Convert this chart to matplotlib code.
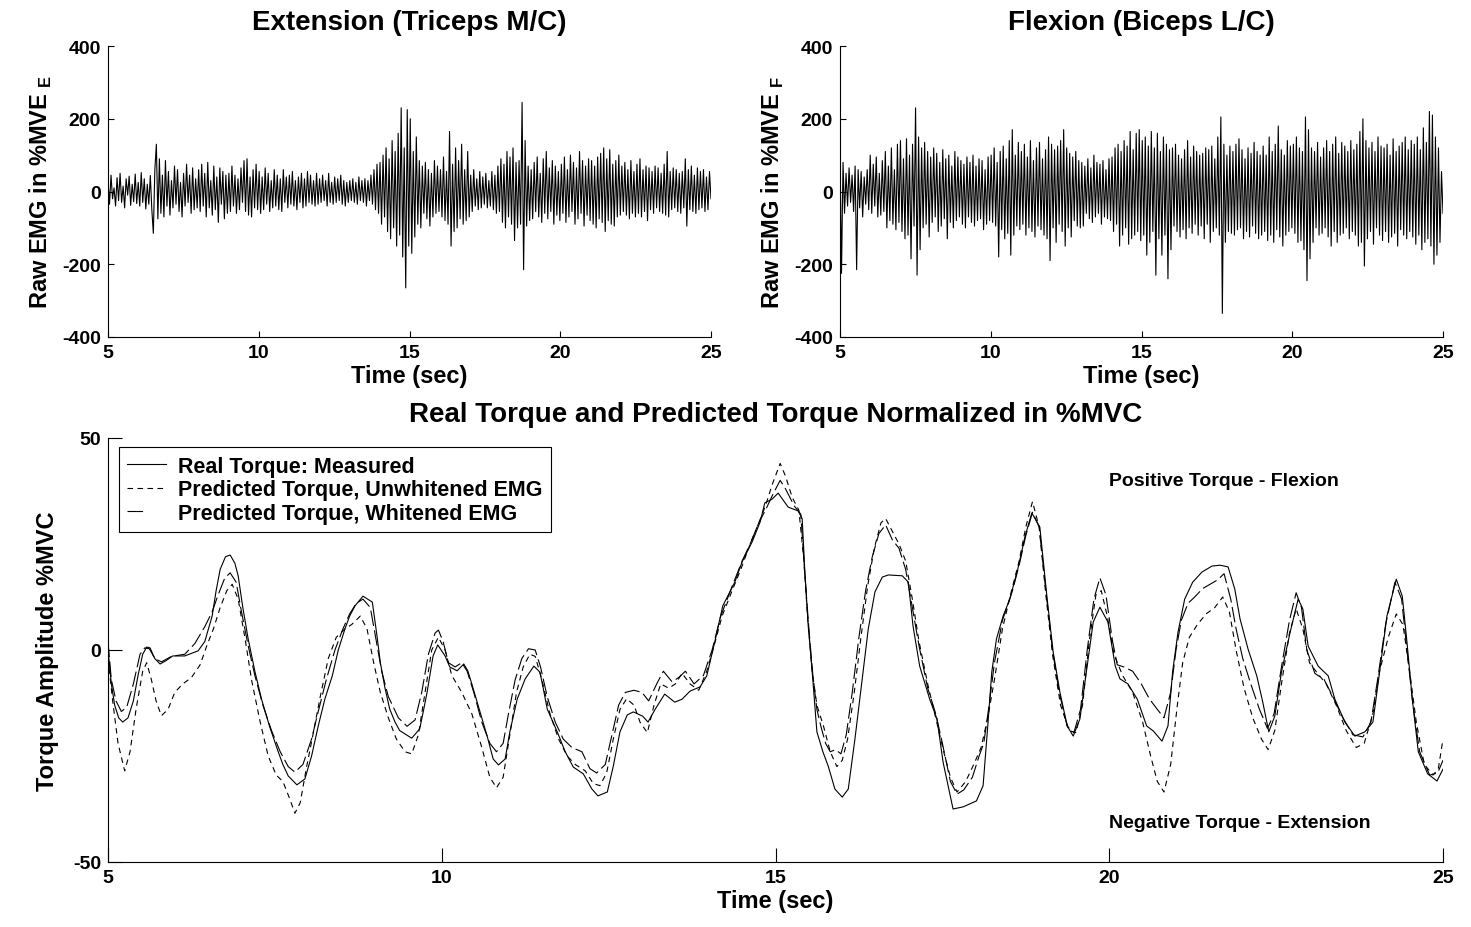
import numpy as np
import matplotlib
matplotlib.use('Agg')
import matplotlib.pyplot as plt
from matplotlib.lines import Line2D

plt.rcParams['font.family'] = ['Liberation Sans', 'DejaVu Sans']
plt.rcParams['font.weight'] = 'bold'
plt.rcParams['mathtext.fontset'] = 'custom'
plt.rcParams['mathtext.bf'] = 'Liberation Sans:bold'
plt.rcParams['mathtext.rm'] = 'Liberation Sans:bold'
plt.rcParams['axes.unicode_minus'] = False

# ---------------- data ----------------
emg_ext = [
    30, -35, 45, -20, 10, -40, 38, -25, 50, -30, 15, -45, 35, -10, 42, -38, 20, -28, 48, -33,
    25, -40, 52, -30, 35, -48, 20, -35, 44, -50, -115, 60, 130, -75, 90, -60, 45, -70, 85, -40,
    55, -65, 30, -45, 70, -35, 60, -55, 25, -70, 50, -40, 75, -30, 45, -60, 65, -50, 35, -45,
    60, -55, 75, -40, 50, -70, 80, -45, 30, -65, 70, -50, 40, -85, 65, -35, 55, -75, 45, -60,
    50, -55, 70, -40, 45, -60, 35, -50, 65, -30, 85, -55, 90, -65, 40, -70, 60, -45, 75, -50,
    55, -60, 40, -50, 65, -35, 50, -55, 30, -45, 60, -40, 45, -50, 35, -55, 60, -30, 40, -45,
    45, -35, 55, -40, 30, -50, 40, -30, 50, -45, 35, -40, 55, -30, 45, -35, 30, -40, 50, -35,
    35, -30, 45, -25, 30, -40, 50, -30, 25, -35, 40, -30, 35, -25, 45, -35, 30, -40, 25, -30,
    30, -25, 35, -30, 25, -35, 40, -25, 30, -30, 35, -40, 30, -25, 45, -35, 60, -50, 75, -60,
    80, -90, 100, -70, 120, -110, 90, -130, 140, -100, 110, -150, 160, -120, 230, -180, 120, -265, 225, -150,
    200, -170, 110, -125, 150, -90, 85, -100, 70, -60, 80, -75, 60, -95, 50, -70, 85, -60, 70, -55,
    60, -70, 95, -80, 55, -90, 165, -150, 75, -110, 120, -100, 85, -75, 130, -90, 60, -80, 110, -70,
    45, -55, 60, -40, 35, -50, 55, -45, 40, -35, 50, -45, 30, -40, 55, -50, 45, -60, 70, -55,
    90, -85, 75, -100, 110, -70, 95, -90, 120, -135, 80, -100, 85, -90, 245, -215, 140, -95, 70, -80,
    60, -75, 80, -55, 95, -70, 50, -85, 90, -60, 110, -75, 65, -55, 85, -90, 70, -65, 55, -80,
    75, -60, 95, -85, 60, -70, 100, -55, 80, -90, 65, -75, 110, -60, 85, -95, 70, -65, 90, -80,
    85, -90, 70, -100, 95, -75, 105, -85, 120, -110, 90, -80, 115, -90, 75, -95, 85, -70, 100, -65,
    70, -55, 80, -65, 60, -75, 85, -60, 55, -70, 75, -60, 90, -70, 60, -55, 70, -80, 65, -50,
    55, -60, 70, -45, 65, -55, 50, -60, 75, -65, 110, -70, 55, -50, 65, -45, 60, -55, 50, -60,
    55, -45, 90, -95, 60, -50, 70, -55, 45, -60, 65, -50, 55, -45, 60, -55, 40, -50, 55, -20,
]

emg_flex = [
    110, -225, 80, -60, 50, -40, 65, -30, 45, -55, 70, -215, 60, -45, 55, -70, 40, -35, 60, -50,
    100, -60, 75, -40, 95, -70, 50, -65, 85, -55, 110, -100, 70, -80, 120, -90, 60, -105, 130, -85,
    140, -110, 90, -130, 145, -120, 100, -185, 130, -95, 230, -230, 150, -160, 120, -100, 135, -90, 110, -125,
    95, -85, 120, -70, 105, -110, 80, -95, 115, -75, 90, -130, 100, -85, 70, -100, 110, -80, 95, -70,
    85, -90, 75, -100, 95, -70, 80, -85, 100, -95, 70, -80, 90, -75, 85, -105, 60, -90, 95, -80,
    100, -85, 120, -95, 80, -180, 110, -105, 125, -130, 90, -115, 140, -175, 170, -120, 100, -95, 135, -105,
    110, -90, 130, -120, 95, -100, 140, -110, 85, -125, 120, -95, 135, -105, 90, -120, 115, -130, 150, -190,
    130, -100, 115, -140, 125, -90, 140, -110, 170, -150, 120, -100, 105, -125, 95, -80, 110, -95, 85, -100,
    80, -95, 70, -60, 90, -75, 65, -85, 100, -70, 80, -60, 75, -90, 85, -70, 60, -75, 90, -80,
    95, -110, 120, -90, 130, -150, 110, -120, 140, -100, 125, -145, 165, -130, 115, -120, 160, -110, 170, -135,
    140, -120, 150, -175, 125, -140, 165, -110, 120, -230, 160, -130, 110, -175, 150, -120, 130, -240, 115, -160,
    120, -95, 130, -110, 100, -125, 90, -105, 115, -130, 140, -100, 95, -115, 125, -90, 110, -120, 100, -95,
    105, -130, 120, -90, 115, -140, 125, -110, 90, -100, 150, -120, 205, -335, 130, -140, 100, -110, 125, -115,
    110, -120, 130, -105, 145, -100, 115, -130, 90, -110, 120, -125, 105, -95, 135, -115, 110, -130, 100, -120,
    125, -110, 100, -135, 150, -120, 110, -140, 130, -105, 180, -125, 115, -150, 100, -120, 140, -110, 125, -100,
    130, -115, 150, -140, 120, -135, 110, -160, 205, -245, 170, -185, 120, -140, 110, -100, 135, -120, 95, -115,
    120, -100, 140, -125, 110, -150, 130, -110, 150, -140, 105, -120, 135, -115, 125, -100, 110, -130, 140, -110,
    115, -120, 130, -150, 165, -140, 200, -205, 140, -130, 120, -110, 135, -145, 110, -100, 150, -120, 125, -135,
    120, -110, 130, -140, 100, -125, 145, -115, 110, -150, 125, -105, 135, -120, 150, -130, 115, -110, 140, -125,
    130, -145, 150, -120, 115, -160, 175, -140, 135, -130, 220, -150, 210, -200, 150, -175, 120, -140, 55, -60,
]

real_t = [5.00, 5.05, 5.10, 5.16, 5.22, 5.30, 5.38, 5.45, 5.52, 5.58, 5.63, 5.70, 5.78, 5.87, 5.97,
          6.15, 6.35, 6.45, 6.56, 6.62, 6.68, 6.76, 6.83, 6.90, 6.95, 7.02, 7.10, 7.20, 7.30, 7.42,
          7.55, 7.62, 7.70, 7.83, 7.95, 8.05, 8.15, 8.25, 8.36, 8.45, 8.55, 8.62, 8.70, 8.82, 8.96,
          9.03, 9.08, 9.15, 9.22, 9.30, 9.37, 9.55, 9.67, 9.73, 9.78, 9.87, 9.94, 10.05, 10.12, 10.23,
          10.33, 10.39, 10.45, 10.53, 10.68, 10.77, 10.85, 10.95, 11.02, 11.13, 11.25, 11.38, 11.47, 11.52, 11.58,
          11.73, 11.85, 11.97, 12.12, 12.25, 12.34, 12.48, 12.57, 12.67, 12.78, 12.87, 13.01, 13.09, 13.20, 13.34,
          13.49, 13.60, 13.72, 13.87, 13.97, 14.09, 14.21, 14.39, 14.50, 14.65, 14.77, 14.84, 14.95, 15.04, 15.19,
          15.34, 15.40, 15.44, 15.49, 15.55, 15.62, 15.71, 15.79, 15.89, 16.00, 16.09, 16.19, 16.30, 16.39, 16.49,
          16.60, 16.69, 16.90, 16.99, 17.06, 17.16, 17.31, 17.42, 17.51, 17.66, 17.81, 18.01, 18.11, 18.18, 18.24,
          18.31, 18.41, 18.51, 18.63, 18.74, 18.84, 18.96, 19.07, 19.16, 19.26, 19.37, 19.46, 19.56, 19.67, 19.76,
          19.86, 19.98, 20.09, 20.16, 20.28, 20.42, 20.56, 20.66, 20.79, 20.88, 20.95, 21.03, 21.13, 21.25, 21.39,
          21.54, 21.66, 21.78, 21.88, 21.96, 22.08, 22.21, 22.30, 22.39, 22.48, 22.58, 22.71, 22.83, 22.90, 22.98,
          23.13, 23.28, 23.38, 23.53, 23.68, 23.83, 23.95, 24.05, 24.16, 24.30, 24.39, 24.46, 24.54, 24.63, 24.77,
          24.91, 25.00]
real_v = [0, -8, -13, -16, -17, -16, -12, -6, -1, 0.7, 0.5, -2, -3.3, -2.5, -1.4,
          -1.4, -0.2, 2, 8, 14, 19, 22, 22.4, 20.5, 17.5, 10, 2.6, -5, -11.6, -18,
          -24, -27, -29.7, -31.8, -30.4, -25, -17.9, -11.5, -6.1, 0, 5, 8, 10.4, 12.7, 11.3,
          3.3, -3, -9, -13.9, -17, -19, -20.8, -18.6, -14, -10, -1.4, 1.2, -1.4, -4, -4.9,
          -3.3, -4.9, -8, -12.3, -20.3, -25.7, -27.1, -25.7, -19.3, -11.6, -6.8, -3.8, -5.2, -9, -13.9,
          -19.3, -24, -27.6, -29.2, -32.8, -34.4, -33.5, -27.4, -19.3, -15.3, -14.6, -15.6, -17, -13.9, -10.4,
          -12.3, -11.6, -9.7, -8.7, -6.1, 1.9, 10.4, 16, 20.8, 25.5, 30.2, 34.7, 35.6, 37, 33.7,
          32.8, 30.9, 18.4, 5.7, -5.2, -19.3, -24, -27.4, -32.8, -34.7, -32.8, -21, -6.8, 5, 13.7,
          17.2, 17.7, 17.5, 16, 5.7, -3.8, -11.6, -16.3, -26.4, -37.5, -37, -35.6, -32, -17.9, -5.2,
          2.6, 8, 12, 19.1, 26.9, 32.3, 29, 12, -0.5, -9.9, -17.9, -20.3, -16.3, -3.8, 6.6,
          10.1, 6.6, -3.8, -6.8, -8, -11.6, -17.9, -19.1, -21.5, -17.9, -5, 4.2, 12, 16, 18.4,
          19.8, 20, 19.6, 14.4, 7.3, 0.2, -6.1, -12.3, -19.3, -15.6, -5.2, 4.2, 12, 9.7, 0.9,
          -3.8, -6.1, -11.6, -17, -20.3, -19.3, -17, -5.2, 8, 16.7, 12.7, 1.9, -11.6, -24, -29.2,
          -30.9, -28.1]

unwh_t = [5.00, 5.07, 5.15, 5.25, 5.33, 5.42, 5.52, 5.58, 5.65, 5.72, 5.80, 5.90, 6.00, 6.12, 6.25,
          6.38, 6.48, 6.58, 6.68, 6.78, 6.86, 6.95, 7.05, 7.15, 7.28, 7.40, 7.52, 7.62, 7.72, 7.80,
          7.88, 7.97, 8.07, 8.18, 8.30, 8.42, 8.55, 8.65, 8.78, 8.88, 8.98, 9.08, 9.20, 9.32, 9.45,
          9.55, 9.65, 9.75, 9.85, 9.95, 10.05, 10.15, 10.30, 10.45, 10.60, 10.72, 10.82, 10.92, 11.02, 11.12,
          11.22, 11.32, 11.40, 11.50, 11.62, 11.75, 11.88, 12.00, 12.15, 12.27, 12.37, 12.47, 12.57, 12.67, 12.77,
          12.88, 12.97, 13.08, 13.18, 13.28, 13.40, 13.50, 13.60, 13.72, 13.85, 13.97, 14.08, 14.20, 14.35, 14.48,
          14.62, 14.75, 14.85, 14.95, 15.07, 15.15, 15.25, 15.35, 15.42, 15.48, 15.55, 15.62, 15.72, 15.82, 15.92,
          16.00, 16.08, 16.18, 16.28, 16.38, 16.48, 16.58, 16.65, 16.75, 16.85, 16.95, 17.05, 17.15, 17.28, 17.40,
          17.52, 17.62, 17.72, 17.85, 17.97, 18.08, 18.18, 18.28, 18.40, 18.52, 18.65, 18.75, 18.85, 18.95, 19.05,
          19.15, 19.27, 19.40, 19.50, 19.60, 19.70, 19.80, 19.88, 19.97, 20.07, 20.20, 20.35, 20.50, 20.62, 20.72,
          20.82, 20.92, 21.02, 21.10, 21.20, 21.32, 21.45, 21.58, 21.70, 21.80, 21.90, 22.02, 22.15, 22.28, 22.38,
          22.48, 22.58, 22.70, 22.80, 22.90, 23.00, 23.12, 23.25, 23.40, 23.55, 23.70, 23.82, 23.95, 24.05, 24.18,
          24.30, 24.40, 24.50, 24.60, 24.72, 24.85, 24.93, 25.00]
unwh_v = [-2, -12, -22, -28.5, -24, -14, -5, -3, -7, -12, -15.5, -14, -10, -8, -6.5,
          -3.5, 1, 5, 10, 14, 15.5, 12, 3, -7, -17, -25, -29.5, -31, -35, -38.5,
          -36, -28, -20, -11, -2, 3, 5, 6, 8, 5, -3, -10, -16, -21, -24,
          -24.5, -20, -10, 0, 3, 0, -6, -10, -15, -23, -30, -32.5, -30, -20, -10,
          -4, -1, -1.5, -7, -15, -21, -25, -27, -28.5, -31.5, -32, -29, -21, -14, -11.5,
          -13, -17, -19.5, -13, -8, -9, -8, -5.5, -8, -9.5, -5, 1, 8, 14, 19,
          25, 30, 34, 39, 44, 41, 36, 33, 22, 8, -5, -13, -18, -24, -27.5,
          -26, -21, -10, 3, 15, 24, 30, 31, 28, 25, 21, 12, 2, -8, -16,
          -24, -30, -33.5, -31, -27, -23, -16, -7, 5, 13, 21, 29, 35, 29, 13,
          -1, -13, -19, -19.5, -13, 2, 13, 14, 8, -1, -6, -10, -17, -25, -31,
          -33.5, -27, -13, -3, 3, 6, 8.5, 10, 12.5, 9, 0, -9, -16, -21, -23.5,
          -19, -8, 4, 9.7, 5, -3, -5.5, -8, -13, -19, -23, -22, -15, -5, 3,
          8.5, 6, -5, -17, -27, -29.5, -28, -21]

wh_t = [5.00, 5.05, 5.12, 5.20, 5.28, 5.38, 5.48, 5.55, 5.62, 5.70, 5.80, 5.95, 6.15, 6.30, 6.45,
        6.56, 6.65, 6.75, 6.83, 6.92, 7.00, 7.10, 7.20, 7.32, 7.45, 7.58, 7.70, 7.80, 7.92, 8.05,
        8.15, 8.27, 8.40, 8.52, 8.62, 8.72, 8.82, 8.93, 9.02, 9.10, 9.20, 9.35, 9.48, 9.60, 9.70,
        9.80, 9.90, 9.95, 10.02, 10.10, 10.20, 10.30, 10.38, 10.48, 10.60, 10.72, 10.82, 10.92, 11.00, 11.10,
        11.20, 11.30, 11.40, 11.48, 11.58, 11.70, 11.82, 11.95, 12.10, 12.22, 12.32, 12.45, 12.55, 12.65, 12.75,
        12.88, 13.00, 13.10, 13.22, 13.32, 13.45, 13.55, 13.65, 13.78, 13.92, 14.05, 14.18, 14.35, 14.50, 14.62,
        14.75, 14.85, 14.97, 15.07, 15.15, 15.28, 15.38, 15.43, 15.50, 15.56, 15.62, 15.68, 15.75, 15.82, 15.90,
        15.98, 16.06, 16.15, 16.25, 16.35, 16.45, 16.55, 16.65, 16.75, 16.85, 16.95, 17.05, 17.15, 17.28, 17.40,
        17.50, 17.62, 17.72, 17.82, 17.95, 18.05, 18.12, 18.20, 18.28, 18.40, 18.55, 18.65, 18.75, 18.85, 18.95,
        19.05, 19.15, 19.25, 19.37, 19.47, 19.57, 19.67, 19.77, 19.86, 19.95, 20.05, 20.12, 20.22, 20.35, 20.48,
        20.60, 20.72, 20.82, 20.92, 21.00, 21.08, 21.18, 21.28, 21.40, 21.52, 21.62, 21.72, 21.82, 21.90, 22.00,
        22.12, 22.25, 22.37, 22.47, 22.58, 22.70, 22.80, 22.88, 22.96, 23.08, 23.22, 23.35, 23.50, 23.65, 23.80,
        23.92, 24.02, 24.14, 24.28, 24.38, 24.46, 24.55, 24.65, 24.80, 24.92, 25.00]
wh_v = [2, -7, -12, -14.5, -13.5, -8, -1, 0.5, 0.3, -2, -2.8, -1.5, -1, 1.5, 5.5,
        9, 13, 17, 18.2, 16, 9, 1, -6, -13, -19, -24, -27.5, -28.8, -27, -21,
        -14.5, -7, 0, 5, 8.5, 11, 12, 10, 2, -5, -11, -16, -18, -16.5, -10,
        -1, 4, 4.7, 2, -3, -4, -3, -5, -10, -17, -22, -24, -22, -15, -7,
        -2, 0.3, 0, -4, -11, -17, -21, -23, -24, -28, -29, -27, -20, -13, -10,
        -9.5, -10, -12, -8, -5, -7.5, -6.5, -5, -8, -6, 0, 8, 15, 21, 25,
        30, 33, 37, 40, 38, 34, 32, 20, 5, -6, -14, -18, -22, -24, -23.5,
        -24.5, -20, -10, 3, 14, 22, 27.5, 29.5, 26, 24, 19, 10, 1, -9, -15,
        -22, -31, -34, -33, -30, -25, -22, -13, -3, 7, 14, 20, 27, 32.5, 29,
        14, 0, -10, -18, -19.5, -14, 0, 12, 17, 13, 2, -3.5, -4, -5, -8,
        -11.5, -14, -16, -10, 0, 7, 11, 12.5, 14.5, 15.6, 16.5, 18, 12, 5, -2,
        -8, -14, -18.5, -15, -4, 7, 13.5, 10, 0, -5.5, -7, -11, -16, -20, -20.5,
        -17, -7, 6, 16, 12, 0, -13, -24, -29.5, -29, -26]

emg_xticks = [5, 10, 15, 20, 25]
emg_yticks = [-400, -200, 0, 200, 400]
tq_yticks = [-50, 0, 50]

# ---------------- figure ----------------
W, H = 1471, 928
fig = plt.figure(figsize=(W / 100, H / 100), dpi=100)


def px_axes(x0, y0, x1, y1):
    return fig.add_axes([x0 / W, 1 - y1 / H, (x1 - x0) / W, (y1 - y0) / H])


def style(ax, ticklen):
    for s in ('top', 'right'):
        ax.spines[s].set_visible(False)
    for s in ('left', 'bottom'):
        ax.spines[s].set_linewidth(0.8)
    ax.tick_params(direction='in', length=ticklen, width=0.8, labelsize=14, pad=5)
    for lab in ax.get_xticklabels() + ax.get_yticklabels():
        lab.set_fontweight('bold')


ax1 = px_axes(108, 47, 711, 338)
ax2 = px_axes(840, 47, 1443, 338)
ax3 = px_axes(108, 439, 1443, 863)

emg_time = np.linspace(5, 25, len(emg_ext))

for ax, sig, title, sub in ((ax1, emg_ext, 'Extension (Triceps M/C)', 'E'),
                            (ax2, emg_flex, 'Flexion (Biceps L/C)', 'F')):
    ax.plot(emg_time, sig, color='black', lw=0.8)
    ax.set_xlim(5, 25)
    ax.set_ylim(-400, 400)
    ax.set_xticks(emg_xticks)
    ax.set_yticks(emg_yticks)
    style(ax, 4)
    ax.set_title(title, fontsize=20, fontweight='bold', pad=12)
    ax.set_xlabel('Time (sec)', fontsize=17, fontweight='bold', labelpad=2)
    ax.set_ylabel('Raw EMG in %MVE$_{\\ \\mathbf{' + sub + '}}$', fontsize=17,
                  fontweight='bold', labelpad=6)

l1, = ax3.plot(real_t, real_v, color='black', lw=0.8)
l2, = ax3.plot(unwh_t, unwh_v, color='black', lw=0.8, dashes=(5, 4))
l3, = ax3.plot(wh_t, wh_v, color='black', lw=0.8, dashes=(14, 4))
ax3.set_xlim(5, 25)
ax3.set_ylim(-50, 50)
ax3.set_xticks(emg_xticks)
ax3.set_yticks(tq_yticks)
style(ax3, 10)
ax3.set_title('Real Torque and Predicted Torque Normalized in %MVC', fontsize=20,
              fontweight='bold', pad=12)
ax3.set_xlabel('Time (sec)', fontsize=17, fontweight='bold', labelpad=2)
ax3.set_ylabel('Torque Amplitude %MVC', fontsize=17, fontweight='bold', labelpad=10)

h3 = Line2D([], [], color='black', lw=0.8, dashes=(14, 40))
leg = ax3.legend([l1, l2, h3],
                 ['Real Torque: Measured', 'Predicted Torque, Unwhitened EMG',
                  'Predicted Torque, Whitened EMG'],
                 loc='upper left', bbox_to_anchor=(0.008, 0.979), borderaxespad=0,
                 fancybox=False, framealpha=1, edgecolor='black',
                 prop={'size': 15.5, 'weight': 'bold'}, handlelength=1.8,
                 labelspacing=0.12, borderpad=0.4, handletextpad=0.55)
leg.get_frame().set_linewidth(0.8)

ax3.text(20, 40, 'Positive Torque - Flexion', fontsize=14, fontweight='bold', va='center')
ax3.text(20, -40.8, 'Negative Torque - Extension', fontsize=14, fontweight='bold', va='center')

fig.savefig('out.png', dpi=100)
